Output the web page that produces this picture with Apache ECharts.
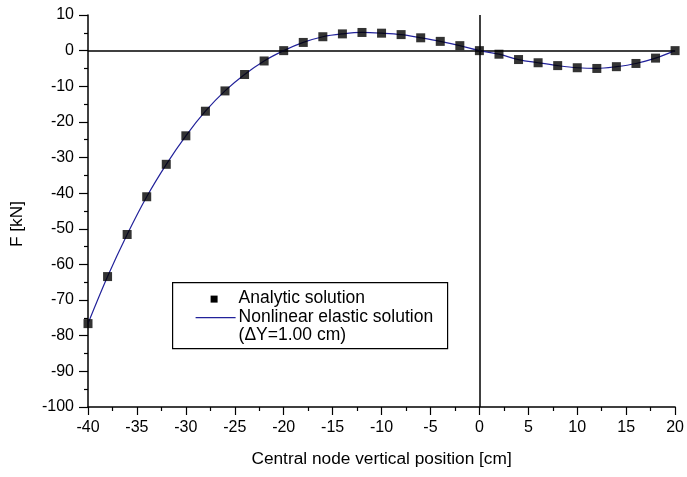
<!DOCTYPE html>
<html>
<head>
<meta charset="utf-8">
<script src="https://cdn.jsdelivr.net/npm/echarts@6/dist/echarts.min.js"></script>
<style>
  html, body { margin: 0; padding: 0; background: #fff; }
  #chart { width: 687px; height: 477px; }
</style>
</head>
<body>
<div id="chart"></div>
<script>
// Central node vertical position [cm]
const positions = [-40, -38, -36, -34, -32, -30, -28, -26, -24, -22, -20, -18, -16, -14, -12, -10,
                   -8, -6, -4, -2, 0, 2, 4, 6, 8, 10, 12, 14, 16, 18, 20];
// Force F [kN], analytic solution
const analytic = [-76.6, -63.4, -51.6, -41.0, -31.9, -23.9, -17.0, -11.3, -6.7, -2.9, 0.0, 2.3, 3.9, 4.7, 5.1, 4.9,
                  4.5, 3.6, 2.6, 1.4, 0.0, -1.0, -2.5, -3.4, -4.2, -4.8, -5.0, -4.5, -3.6, -2.1, 0.0];
// Force F [kN], nonlinear elastic solution
const nonlinear = analytic.slice();

const xTicks = { min: -40, max: 20, step: 5 };
const yTicks = { min: -100, max: 10, step: 10 };

const seriesNames = ['Analytic solution', 'Nonlinear elastic solution', '(\u0394Y=1.00 cm)'];
const axisNames = { x: 'Central node vertical position [cm]', y: 'F [kN]' };

const font = 'Liberation Sans, Arial, sans-serif';
const lineColor = '#22229a';

const chart = echarts.init(document.getElementById('chart'), null, { renderer: 'canvas' });

const axisCommon = {
  axisLine: { onZero: false, lineStyle: { color: '#000', width: 1.5 } },
  axisTick: { inside: false, length: 8, lineStyle: { color: '#000', width: 1.2 } },
  minorTick: { show: true, splitNumber: 2, length: 4, lineStyle: { color: '#000', width: 1.2 } },
  splitLine: { show: false },
  axisLabel: { color: '#000', fontSize: 16, fontFamily: font }
};

chart.setOption({
  animation: false,
  backgroundColor: '#fff',
  grid: { left: 88, right: 10, top: 15, bottom: 70, containLabel: false },
  xAxis: Object.assign({}, axisCommon, {
    type: 'value',
    min: xTicks.min, max: xTicks.max, interval: xTicks.step,
    name: axisNames.x,
    nameLocation: 'middle',
    nameGap: 44,
    nameTextStyle: { color: '#000', fontSize: 17.3, fontFamily: font },
    axisLabel: Object.assign({}, axisCommon.axisLabel, { margin: 13 })
  }),
  yAxis: Object.assign({}, axisCommon, {
    type: 'value',
    min: yTicks.min, max: yTicks.max, interval: yTicks.step,
    axisTick: Object.assign({}, axisCommon.axisTick, { length: 9 }),
    axisLabel: Object.assign({}, axisCommon.axisLabel, { margin: 14 })
  }),
  series: [
    {
      name: seriesNames[1],
      type: 'line',
      data: positions.map((x, i) => [x, nonlinear[i]]),
      smooth: 0.35,
      showSymbol: false,
      lineStyle: { color: lineColor, width: 1.2 },
      z: 3,
      markLine: {
        silent: true,
        symbol: 'none',
        label: { show: false },
        lineStyle: { color: '#000', width: 1.5, type: 'solid' },
        data: [{ xAxis: 0 }, { yAxis: 0 }],
        z: 2
      }
    },
    {
      name: seriesNames[0],
      type: 'scatter',
      data: positions.map((x, i) => [x, analytic[i]]),
      symbol: 'rect',
      symbolSize: 9,
      itemStyle: { color: '#000' },
      z: 4
    }
  ],
  graphic: [
    {
      type: 'text',
      x: 17, y: 224,
      rotation: Math.PI / 2,
      style: {
        text: axisNames.y, fill: '#000', fontSize: 17.3, fontFamily: font,
        align: 'center', verticalAlign: 'middle'
      }
    },
    {
      type: 'group',
      left: 172, top: 282,
      children: [
        {
          type: 'rect',
          shape: { x: 0, y: 0, width: 275, height: 66 },
          style: { fill: '#fff', stroke: '#000', lineWidth: 1.2 }
        },
        {
          type: 'rect',
          shape: { x: 38, y: 13, width: 7, height: 7 },
          style: { fill: '#000' }
        },
        {
          type: 'line',
          shape: { x1: 23, y1: 35, x2: 63, y2: 35 },
          style: { stroke: lineColor, lineWidth: 1.2 }
        },
        {
          type: 'text', x: 66, y: 16,
          style: { text: seriesNames[0], fill: '#000', fontSize: 17.5, fontFamily: font, verticalAlign: 'middle' }
        },
        {
          type: 'text', x: 66, y: 35,
          style: { text: seriesNames[1], fill: '#000', fontSize: 17.5, fontFamily: font, verticalAlign: 'middle' }
        },
        {
          type: 'text', x: 66, y: 53,
          style: { text: seriesNames[2], fill: '#000', fontSize: 17.5, fontFamily: font, verticalAlign: 'middle' }
        }
      ]
    }
  ]
});
</script>
</body>
</html>
